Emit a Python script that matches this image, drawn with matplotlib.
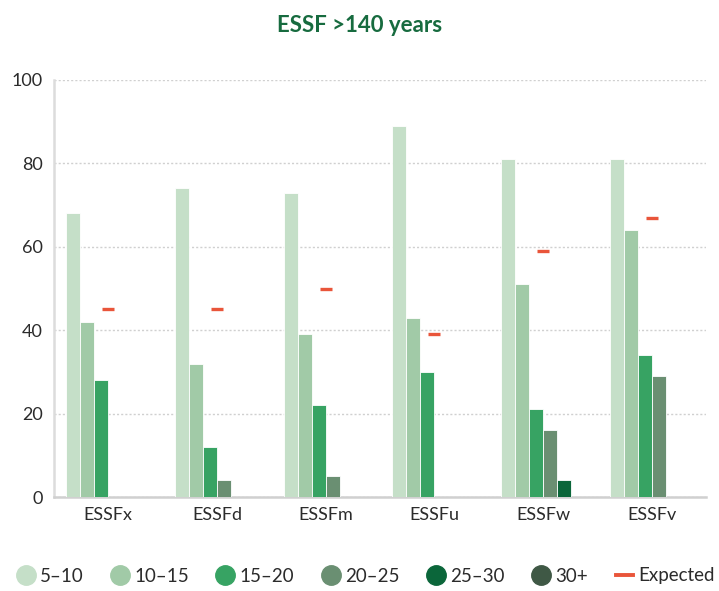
import matplotlib
matplotlib.use("Agg")
import matplotlib.pyplot as plt
import numpy as np
from matplotlib.lines import Line2D

plt.rcParams['font.family'] = ['Lato', 'DejaVu Sans']

categories = ["ESSFx", "ESSFd", "ESSFm", "ESSFu", "ESSFw", "ESSFv"]
series_names = ["5–10", "10–15", "15–20", "20–25", "25–30", "30+"]
s_5_10 = [68, 74, 73, 89, 81, 81]
s_10_15 = [42, 32, 39, 43, 51, 64]
s_15_20 = [28, 12, 22, 30, 21, 34]
s_20_25 = [0, 4, 5, 0, 16, 29]
s_25_30 = [0, 0, 0, 0, 4, 0]
s_30p = [0, 0, 0, 0, 0, 0]
expected = [45, 45, 50, 39, 59, 67]

series = [s_5_10, s_10_15, s_15_20, s_20_25, s_25_30, s_30p]
colors = ["#c5dfc8", "#a1caa7", "#37a363", "#6a8f72", "#0b663a", "#3f5845"]
exp_color = "#e9553a"

fig = plt.figure(figsize=(7.19, 5.91), dpi=100)
ax = fig.add_axes([54/719, 1-497/591, (706-54)/719, (497-80)/591])

x = np.arange(len(categories))
bw = 0.129
n = len(series)
for i, (vals, c) in enumerate(zip(series, colors)):
    offs = (i - (n-1)/2) * bw
    ax.bar(x + offs, vals, width=bw, color=c, edgecolor='white', linewidth=0.6, zorder=3)

ax.hlines(expected, x - 0.055, x + 0.055, color=exp_color, linewidth=2.4, zorder=4)

ax.set_xlim(-0.5, len(categories) - 0.5)
ax.set_ylim(0, 100)
ax.set_yticks([0, 20, 40, 60, 80, 100])
ax.set_xticks(x)
ax.set_xticklabels(categories)
ax.tick_params(axis='both', length=0, labelsize=13, colors='#2b2b2b')
ax.tick_params(axis='x', pad=7)
ax.tick_params(axis='y', pad=8)
ax.yaxis.grid(True, color='#d0d0d0', linestyle=(0, (1.5, 1.5)), linewidth=1.0, zorder=0)
for s in ['top', 'right']:
    ax.spines[s].set_visible(False)
ax.spines['left'].set_color('#dcdcdc')
ax.spines['left'].set_linewidth(1.8)
ax.spines['bottom'].set_color('#d0d0d0')
ax.spines['bottom'].set_linewidth(1.8)

fig.text(0.5, 1-25/591, "ESSF >140 years", ha='center', va='center',
         fontsize=16, fontweight='bold', color='#176b3f')

handles = [Line2D([0], [0], marker='o', linestyle='none', markersize=14,
                  markerfacecolor=c, markeredgecolor=c) for c in colors]
handles.append(Line2D([0], [0], color=exp_color, linewidth=2.8))
labels = series_names + ["Expected"]
fig.legend(handles, labels, loc='center', bbox_to_anchor=(366/719, 1-576/591), ncol=7,
           frameon=False, fontsize=13.5, handlelength=0.9, handletextpad=0.3,
           columnspacing=1.5, labelcolor='#2b2b2b')

fig.savefig("out.png", dpi=100)
